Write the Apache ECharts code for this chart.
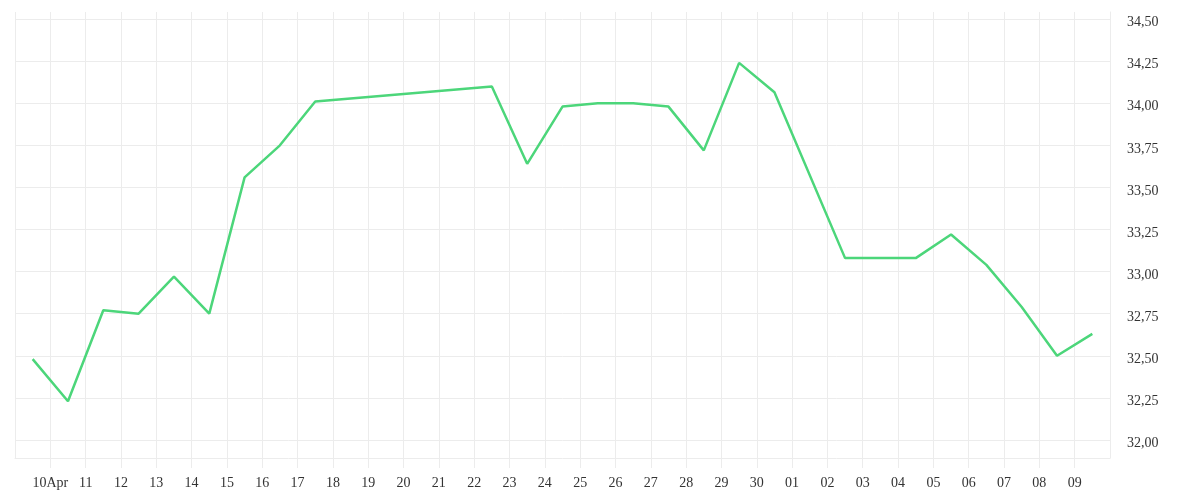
<!DOCTYPE html>
<html>
<head>
<meta charset="utf-8">
<script src="https://cdn.jsdelivr.net/npm/echarts@6/dist/echarts.min.js"></script>
<style>
html,body{margin:0;padding:0;background:#fff;}
#chart{width:1200px;height:500px;}
</style>
</head>
<body>
<div id="chart"></div>
<script>
// Daily observations (plotted at midday of each date)
const dates = [
  '2025-04-09','2025-04-10','2025-04-11','2025-04-12','2025-04-13','2025-04-14',
  '2025-04-15','2025-04-16','2025-04-17','2025-04-22','2025-04-23','2025-04-24',
  '2025-04-25','2025-04-26','2025-04-27','2025-04-28','2025-04-29','2025-04-30',
  '2025-05-02','2025-05-03','2025-05-04','2025-05-05','2025-05-06','2025-05-07',
  '2025-05-08','2025-05-09'
];
const values = [
  32.48, 32.23, 32.77, 32.75, 32.97, 32.75,
  33.56, 33.75, 34.01, 34.10, 33.64, 33.98,
  34.00, 34.00, 33.98, 33.72, 34.24, 34.065,
  33.08, 33.08, 33.08, 33.22, 33.04, 32.79,
  32.50, 32.63
];
const xStart = '2025-04-09';
const xEnd = '2025-05-10';
const yMin = 31.75;
const yMax = 34.75;
const yStep = 0.25;
const DAY = 86400000;

const seriesData = dates.map((d, i) => [Date.parse(d + 'T12:00:00Z'), values[i]]);
const gridColor = '#ececec';
const labelFont = '"Liberation Serif", "DejaVu Serif", serif';
const xMin = Date.parse(xStart + 'T00:00:00Z');
const xMax = Date.parse(xEnd + 'T00:00:00Z');

const chart = echarts.init(document.getElementById('chart'), null, {renderer: 'canvas'});
chart.setOption({
  animation: false,
  backgroundColor: '#ffffff',
  grid: [
    // value grid: 32,00 at y=440 and 34,50 at y=19
    {left: 15, right: 90, top: -23, bottom: 18, containLabel: false, outerBoundsMode: 'none'},
    // frame grid: visible plot area
    {left: 15, right: 90, top: 12, bottom: 42, containLabel: false, outerBoundsMode: 'none'}
  ],
  xAxis: [
    {
      gridIndex: 0, type: 'value', min: xMin, max: xMax, interval: DAY,
      show: false
    },
    {
      gridIndex: 1, type: 'value', min: xMin, max: xMax, interval: DAY,
      axisLine: {show: true, lineStyle: {color: gridColor, width: 1}},
      axisTick: {show: true, length: 10, lineStyle: {color: gridColor}},
      splitLine: {show: true, lineStyle: {color: gridColor, width: 1}},
      axisLabel: {
        showMinLabel: false,
        showMaxLabel: false,
        margin: 18,
        color: '#333',
        fontSize: 14,
        fontFamily: labelFont,
        formatter: function (v) {
          const d = new Date(v);
          const day = d.getUTCDate();
          if (d.getUTCMonth() === 3 && day === 10) return '10Apr';
          return (day < 10 ? '0' : '') + day;
        }
      }
    }
  ],
  yAxis: [
    {
      gridIndex: 0, type: 'value', position: 'right',
      min: yMin, max: yMax, interval: yStep,
      axisLine: {show: false},
      axisTick: {show: false},
      splitLine: {show: true, showMinLine: false, showMaxLine: false, lineStyle: {color: gridColor, width: 1}},
      axisLabel: {
        showMinLabel: false,
        showMaxLabel: false,
        margin: 17,
        color: '#333',
        fontSize: 14,
        fontFamily: labelFont,
        verticalAlign: 'top',
        lineHeight: 7,
        formatter: function (v) { return v.toFixed(2).replace('.', ','); }
      }
    },
    {
      gridIndex: 1, type: 'value', position: 'right', min: 0, max: 1,
      axisLine: {show: true, lineStyle: {color: gridColor, width: 1}},
      axisTick: {show: false},
      axisLabel: {show: false},
      splitLine: {show: false}
    }
  ],
  series: [{
    type: 'line',
    xAxisIndex: 0,
    yAxisIndex: 0,
    data: seriesData,
    showSymbol: false,
    symbol: 'none',
    lineStyle: {color: '#4cd67a', width: 2.5},
    itemStyle: {color: '#4cd67a'}
  }]
});
</script>
</body>
</html>
